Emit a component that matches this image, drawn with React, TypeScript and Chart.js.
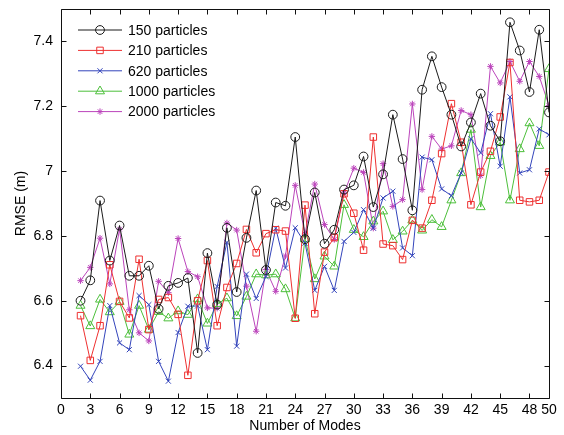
import React, { useEffect, useRef } from 'react';
import { Chart, registerables } from 'chart.js';
import { drawPoint } from 'chart.js/helpers';

Chart.register(...registerables);

const modes = [2, 3, 4, 5, 6, 7, 8, 9, 10, 11, 12, 13, 14, 15, 16, 17, 18, 19, 20, 21, 22, 23, 24, 25, 26,
  27, 28, 29, 30, 31, 32, 33, 34, 35, 36, 37, 38, 39, 40, 41, 42, 43, 44, 45, 46, 47, 48, 49, 50];

const rmse150 = [6.600, 6.663, 6.909, 6.724, 6.832, 6.677, 6.677, 6.708, 6.575, 6.646, 6.655, 6.670, 6.439,
  6.747, 6.588, 6.825, 6.627, 6.794, 6.940, 6.695, 6.903, 6.893, 7.105, 6.790, 6.934, 6.776, 6.819, 6.943,
  6.956, 7.045, 6.889, 6.990, 7.174, 7.037, 6.879, 7.251, 7.354, 7.259, 7.174, 7.076, 7.150, 7.239, 7.140,
  7.092, 7.459, 7.372, 7.244, 7.436, 7.181];

const rmse210 = [6.554, 6.416, 6.523, 6.711, 6.598, 6.547, 6.728, 6.511, 6.604, 6.610, 6.558, 6.370, 6.600,
  6.724, 6.523, 6.641, 6.715, 6.820, 6.748, 6.807, 6.819, 6.815, 6.546, 6.895, 6.560, 6.750, 6.795, 6.930,
  6.870, 6.756, 7.105, 6.775, 6.770, 6.727, 6.848, 6.824, 6.910, 7.054, 7.208, 7.089, 6.896, 6.997, 7.061,
  7.167, 7.335, 6.910, 6.905, 6.910, 6.997];

const rmse620 = [6.398, 6.355, 6.413, 6.585, 6.470, 6.449, 6.616, 6.588, 6.413, 6.352, 6.502, 6.583, 6.584,
  6.449, 6.644, 6.780, 6.460, 6.682, 6.607, 6.675, 6.824, 6.701, 6.825, 6.778, 6.632, 6.706, 6.632, 6.783,
  6.811, 6.881, 6.824, 6.917, 6.938, 6.763, 6.739, 7.043, 7.035, 6.945, 6.924, 6.994, 7.100, 7.056, 7.177,
  7.015, 7.229, 6.994, 7.004, 7.130, 7.112];

const rmse1000 = [6.585, 6.522, 6.604, 6.565, 6.597, 6.496, 6.585, 6.511, 6.566, 6.546, 6.568, 6.557, 6.605,
  6.530, 6.590, 6.608, 6.553, 6.613, 6.682, 6.679, 6.682, 6.636, 6.546, 6.790, 6.667, 6.737, 6.706, 6.896,
  6.819, 6.797, 6.845, 6.876, 6.788, 6.814, 6.848, 6.817, 6.850, 6.828, 6.910, 6.994, 7.128, 6.889, 7.047,
  7.089, 6.910, 7.068, 7.148, 7.078, 7.315];

const rmse2000 = [6.662, 6.703, 6.793, 6.652, 6.821, 6.572, 6.501, 6.476, 6.660, 6.625, 6.792, 6.690, 6.674,
  6.578, 6.577, 6.840, 6.818, 6.645, 6.506, 6.696, 6.629, 6.738, 6.956, 6.806, 6.960, 6.835, 6.789, 6.932,
  7.009, 6.996, 6.824, 7.023, 6.891, 6.912, 7.207, 6.943, 7.107, 7.068, 7.078, 7.187, 7.174, 6.986, 7.323,
  7.272, 7.338, 7.277, 7.338, 7.292, 7.202];

const seriesNames = ['150 particles', '210 particles', '620 particles', '1000 particles', '2000 particles'];
const seriesValues = [rmse150, rmse210, rmse620, rmse1000, rmse2000];

const xTickValues = [0, 3, 6, 9, 12, 15, 18, 21, 24, 27, 30, 33, 36, 39, 42, 45, 48, 50];
const yTickValues = [6.4, 6.6, 6.8, 7.0, 7.2, 7.4];
const yTickLabels = ['6.4', '6.6', '6.8', '7', '7.2', '7.4'];

const FONT = '"Liberation Sans", Arial, Helvetica, sans-serif';

const seriesStyles = [
  { color: '#1a1a1a', pointStyle: 'circle', radius: 4.4 },
  { color: '#ee3030', pointStyle: 'rect', radius: 4.6 },
  { color: '#3344bb', pointStyle: 'crossRot', radius: 3.6 },
  { color: '#4cbf3a', pointStyle: 'triangle', radius: 5.2 },
  { color: '#bb44bb', pointStyle: 'star', radius: 3.2 },
];

const boxPlugin = {
  id: 'boxTicks',
  afterDatasetsDraw(chart: any) {
    const { ctx, chartArea } = chart;
    const xs = chart.scales.x;
    const ys = chart.scales.y;
    const L = Math.round(chartArea.left) + 0.5;
    const R = Math.round(chartArea.right) + 0.5;
    const T = Math.round(chartArea.top) + 0.5;
    const B = Math.round(chartArea.bottom) + 0.5;
    ctx.save();
    ctx.strokeStyle = '#111';
    ctx.lineWidth = 1;
    ctx.beginPath();
    ctx.rect(L, T, R - L, B - T);
    ctx.stroke();
    const tl = 5;
    ctx.beginPath();
    xTickValues.forEach((v) => {
      const px = Math.round(xs.getPixelForValue(v)) + 0.5;
      ctx.moveTo(px, B); ctx.lineTo(px, B - tl);
      ctx.moveTo(px, T); ctx.lineTo(px, T + tl);
    });
    yTickValues.forEach((v) => {
      const py = Math.round(ys.getPixelForValue(v)) + 0.5;
      ctx.moveTo(L, py); ctx.lineTo(L + tl, py);
      ctx.moveTo(R, py); ctx.lineTo(R - tl, py);
    });
    ctx.stroke();

    // legend
    chart.data.datasets.forEach((ds: any, i: number) => {
      const y = chartArea.top + 21 + i * 20.4;
      const x0 = chartArea.left + 17;
      const x1 = chartArea.left + 61;
      ctx.strokeStyle = ds.borderColor;
      ctx.lineWidth = 1;
      ctx.beginPath();
      ctx.moveTo(x0, y);
      ctx.lineTo(x1, y);
      ctx.stroke();
      ctx.fillStyle = 'rgba(0,0,0,0)';
      drawPoint(ctx, { pointStyle: ds.pointStyle, radius: ds.pointRadius, borderWidth: 1, rotation: 0 } as any, (x0 + x1) / 2, y);
      ctx.fillStyle = '#000';
      ctx.font = '14px ' + FONT;
      ctx.textAlign = 'left';
      ctx.textBaseline = 'middle';
      ctx.fillText(ds.label, chartArea.left + 67, y + 1);
    });
    ctx.restore();
  },
};

export default function App() {
  const canvasRef = useRef<HTMLCanvasElement>(null);

  useEffect(() => {
    document.body.style.margin = '0';
    const canvas = canvasRef.current;
    if (!canvas) return;
    const datasets = seriesValues.map((vals, i) => ({
      label: seriesNames[i],
      data: modes.map((m, j) => ({ x: m, y: vals[j] })),
      borderColor: seriesStyles[i].color,
      backgroundColor: 'rgba(0,0,0,0)',
      borderWidth: 1,
      pointStyle: seriesStyles[i].pointStyle,
      pointRadius: seriesStyles[i].radius,
      pointBorderColor: seriesStyles[i].color,
      pointBackgroundColor: 'rgba(0,0,0,0)',
      pointBorderWidth: 1,
      tension: 0,
      fill: false,
    }));

    const chart = new Chart(canvas, {
      type: 'line',
      data: { datasets },
      plugins: [boxPlugin],
      options: {
        responsive: false,
        animation: false,
        devicePixelRatio: 1,
        layout: { padding: { top: 9, right: 15, left: 0, bottom: 0 } },
        plugins: { legend: { display: false }, tooltip: { enabled: false } },
        scales: {
          x: {
            type: 'linear',
            min: 0,
            max: 50,
            afterBuildTicks: (scale: any) => {
              scale.ticks = xTickValues.map((v) => ({ value: v }));
            },
            afterFit: (scale: any) => {
              scale.height = 37;
              scale.paddingLeft = 0;
              scale.paddingRight = 0;
            },
            grid: { display: false, drawTicks: false },
            border: { display: false },
            ticks: {
              autoSkip: false,
              maxRotation: 0,
              minRotation: 0,
              padding: 4,
              color: '#000',
              font: { family: FONT, size: 14 },
              callback: (v: any) => String(v),
            },
            title: {
              display: true,
              text: 'Number of Modes',
              color: '#000',
              font: { family: FONT, size: 14 },
              padding: { top: 0, bottom: 0 },
            },
          },
          y: {
            type: 'linear',
            min: 6.3,
            max: 7.5,
            afterBuildTicks: (scale: any) => {
              scale.ticks = yTickValues.map((v) => ({ value: v }));
            },
            afterFit: (scale: any) => {
              scale.width = 61;
              scale.paddingTop = 0;
              scale.paddingBottom = 0;
            },
            grid: { display: false, drawTicks: false },
            border: { display: false },
            ticks: {
              padding: 8,
              color: '#000',
              font: { family: FONT, size: 14 },
              callback: (_v: any, idx: number) => yTickLabels[idx],
            },
            title: {
              display: true,
              text: 'RMSE (m)',
              color: '#000',
              font: { family: FONT, size: 14 },
              padding: { top: 13, bottom: 0 },
            },
          },
        },
      } as any,
    });
    return () => chart.destroy();
  }, []);

  return (
    <div style={{ width: 564, height: 435 }}>
      <canvas ref={canvasRef} width={564} height={435} style={{ display: 'block', width: 564, height: 435 }} />
    </div>
  );
}
